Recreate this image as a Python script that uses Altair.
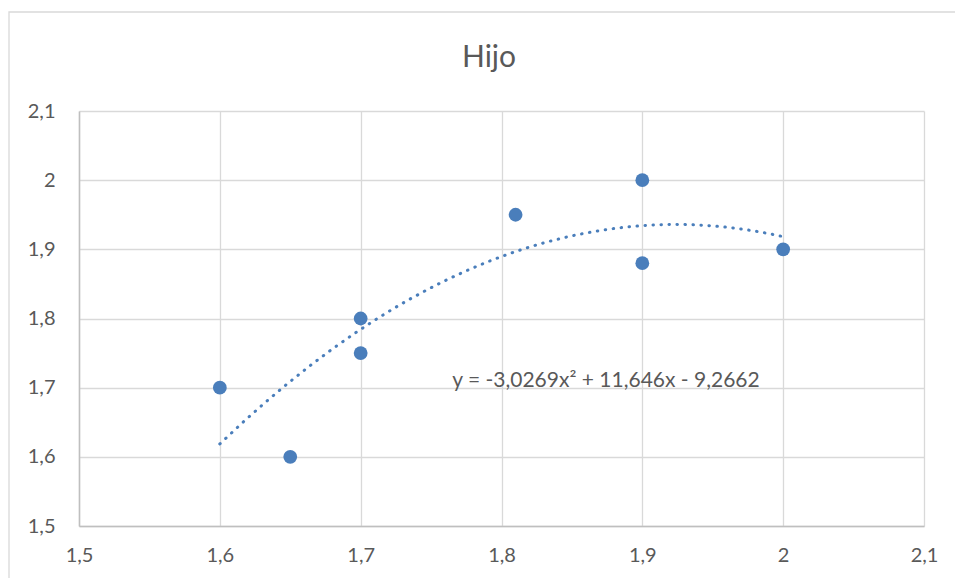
import altair as alt
import pandas as pd

# Data
x_vals = [1.6, 1.65, 1.7, 1.7, 1.81, 1.9, 1.9, 2.0]
y_vals = [1.7, 1.6, 1.8, 1.75, 1.95, 2.0, 1.88, 1.9]
tick_vals = [1.5, 1.6, 1.7, 1.8, 1.9, 2.0, 2.1]
chart_title = "Hijo"
equation = "y = -3,0269x\u00b2 + 11,646x - 9,2662"
eq_x = [1.765]
eq_y = [1.71]

BLUE = "#4A7EBB"
TXT = "#595959"

df = pd.DataFrame({"x": x_vals, "y": y_vals})
eq_df = pd.DataFrame({"x": eq_x, "y": eq_y, "t": [equation]})
title_df = pd.DataFrame({"t": [chart_title]})
lab = "replace(format(datum.value, '.1~f'), '.', ',')"

xscale = alt.Scale(domain=[1.5, 2.1], nice=False, zero=False)
yscale = alt.Scale(domain=[1.5, 2.1], nice=False, zero=False)
common = dict(values=tick_vals, labelExpr=lab, title=None, ticks=False,
              domainColor="#BFBFBF", domainWidth=1.5, gridColor="#D9D9D9", gridWidth=1.3,
              labelFontSize=20, labelColor=TXT, labelFlush=False, labelOverlap=False)
xaxis = alt.Axis(labelPadding=19, **common)
yaxis = alt.Axis(labelPadding=24, **common)

X = alt.X("x:Q", scale=xscale, axis=xaxis)
Y = alt.Y("y:Q", scale=yscale, axis=yaxis)

border = alt.Chart(pd.DataFrame({"a": [0]})).mark_rect(
    fill="transparent", stroke="#D9D9D9", strokeWidth=1.3
).encode(x=alt.value(-70), x2=alt.value(900), y=alt.value(-99), y2=alt.value(500))

title = alt.Chart(title_df).mark_text(
    align="center", baseline="alphabetic", fontSize=30, color=TXT
).encode(x=alt.value(410), y=alt.value(-44), text="t:N")

base = alt.Chart(df)

trend = base.transform_regression(
    "x", "y", method="poly", order=2, extent=[1.6, 2.0]
).mark_line(color=BLUE, strokeWidth=3, strokeDash=[0.5, 7.5], strokeCap="round").encode(x=X, y=Y)

points = base.mark_circle(color=BLUE, size=190, opacity=1).encode(x=X, y=Y)

eq = alt.Chart(eq_df).mark_text(
    align="left", baseline="middle", fontSize=21, color=TXT
).encode(x=X, y=Y, text="t:N")

chart = alt.layer(border, title, trend, points, eq).properties(
    width=845, height=415,
    padding={"left": 79, "top": 111, "right": 31, "bottom": 52},
    autosize="none",
).configure(font="Lato").configure_view(stroke=None)

chart.save("out.html", embed_options={"renderer": "svg", "actions": False})
